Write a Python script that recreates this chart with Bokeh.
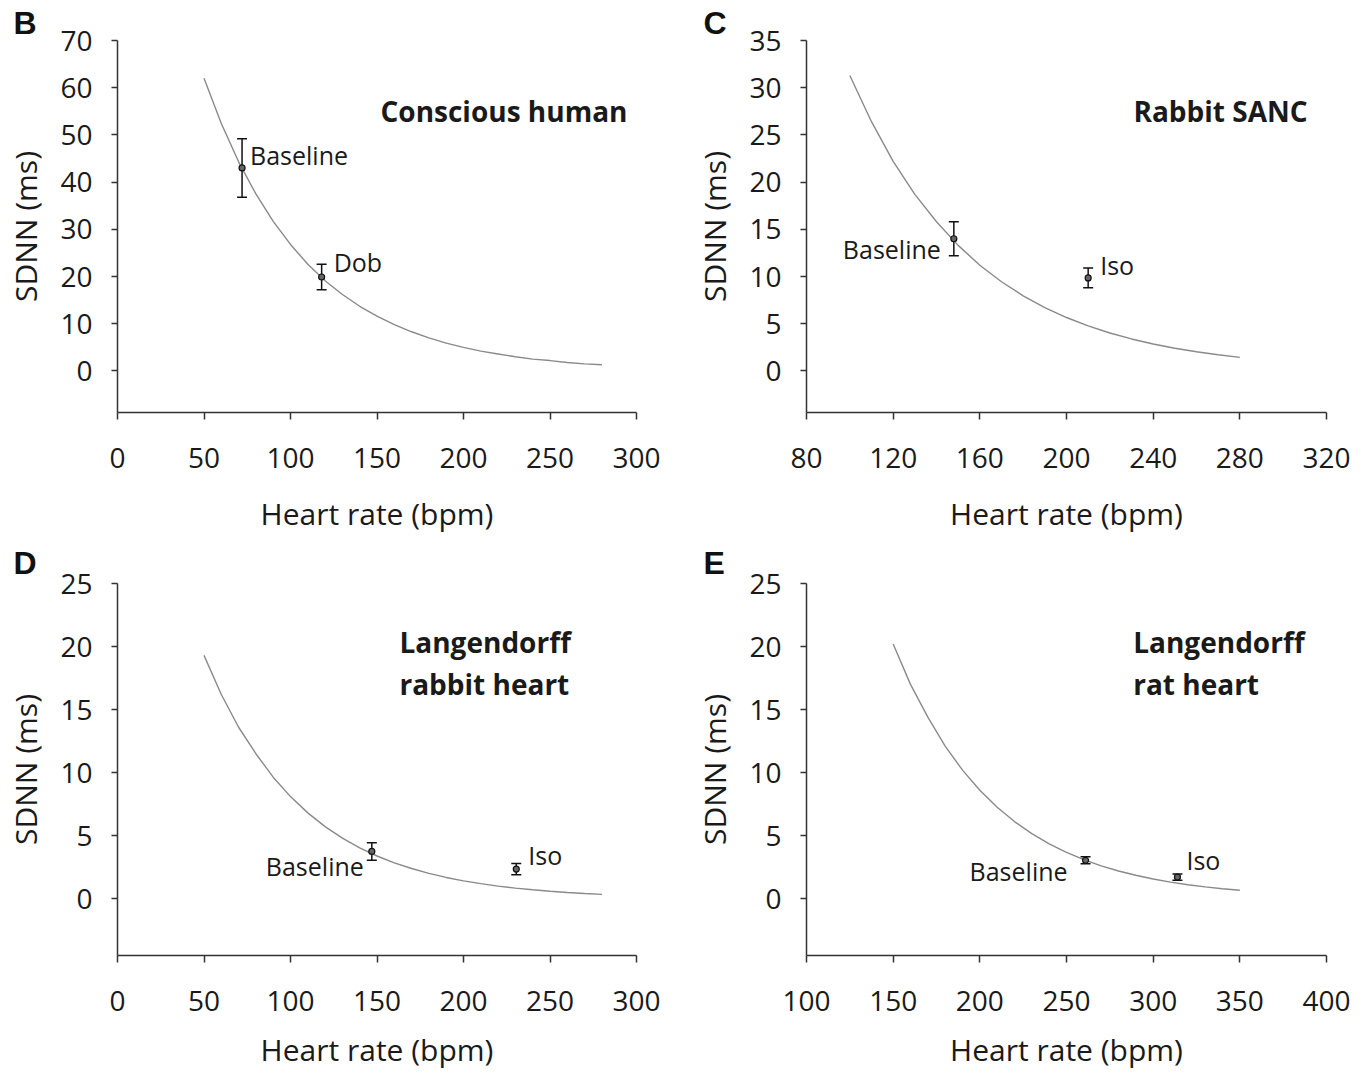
from bokeh.plotting import figure
from bokeh.models import Range1d, FixedTicker, Label, Whisker, TeeHead, ColumnDataSource
from bokeh.layouts import column, row
from bokeh.embed import file_html
from bokeh.resources import INLINE

# ---------------- data ----------------
# Panel B: Conscious human
b_curve_hr = [50, 60, 70, 80, 90, 100, 110, 120, 130, 140, 150, 160, 170, 180, 190, 200,
              210, 220, 230, 240, 250, 260, 270, 280]
b_curve_sdnn = [62.0, 52.4, 44.3, 37.5, 31.7, 26.8, 22.6, 19.1, 16.2, 13.7, 11.6, 9.8, 8.3, 7.0,
                5.9, 5.0, 4.2, 3.6, 3.0, 2.5, 2.2, 1.8, 1.5, 1.3]
b_labels = ["Baseline", "Dob"]
b_hr = [72, 118]
b_sdnn = [43.0, 19.9]
b_err = [6.2, 2.7]
b_xticks = [0, 50, 100, 150, 200, 250, 300]
b_yticks = [0, 10, 20, 30, 40, 50, 60, 70]

# Panel C: Rabbit SANC
c_curve_hr = [100, 110, 120, 130, 140, 150, 160, 170, 180, 190, 200, 210, 220, 230, 240, 250,
              260, 270, 280]
c_curve_sdnn = [31.3, 26.4, 22.2, 18.7, 15.8, 13.3, 11.2, 9.45, 7.96, 6.71, 5.66, 4.77, 4.02,
                3.39, 2.85, 2.40, 2.03, 1.71, 1.44]
c_labels = ["Baseline", "Iso"]
c_hr = [148, 210]
c_sdnn = [14.0, 9.85]
c_err = [1.8, 1.05]
c_xticks = [80, 120, 160, 200, 240, 280, 320]
c_yticks = [0, 5, 10, 15, 20, 25, 30, 35]

# Panel D: Langendorff rabbit heart
d_curve_hr = [50, 60, 70, 80, 90, 100, 110, 120, 130, 140, 150, 160, 170, 180, 190, 200,
              210, 220, 230, 240, 250, 260, 270, 280]
d_curve_sdnn = [19.3, 16.2, 13.6, 11.5, 9.64, 8.10, 6.81, 5.72, 4.81, 4.04, 3.39, 2.85, 2.40,
                2.01, 1.69, 1.42, 1.20, 1.00, 0.84, 0.71, 0.60, 0.50, 0.42, 0.35]
d_labels = ["Baseline", "Iso"]
d_hr = [147, 230.5]
d_sdnn = [3.75, 2.35]
d_err = [0.7, 0.45]
d_xticks = [0, 50, 100, 150, 200, 250, 300]
d_yticks = [0, 5, 10, 15, 20, 25]

# Panel E: Langendorff rat heart
e_curve_hr = [150, 160, 170, 180, 190, 200, 210, 220, 230, 240, 250, 260, 270, 280, 290, 300,
              310, 320, 330, 340, 350]
e_curve_sdnn = [20.2, 17.0, 14.4, 12.1, 10.2, 8.6, 7.26, 6.12, 5.16, 4.35, 3.67, 3.10, 2.61,
                2.20, 1.86, 1.57, 1.32, 1.11, 0.94, 0.79, 0.67]
e_labels = ["Baseline", "Iso"]
e_hr = [261, 314]
e_sdnn = [3.05, 1.72]
e_err = [0.28, 0.25]
e_xticks = [100, 150, 200, 250, 300, 350, 400]
e_yticks = [0, 5, 10, 15, 20, 25]

FONT = "Open Sans"
TXT = "#1a1a1a"


def panel(letter, title_lines, title_x, title_y, title_dy, xr, yr, xticks, yticks,
          chr_, csd, hr, sd, err, labels, lab_specs, w, h, bl, br, bt, bb, letter_x, letter_sb,
          xlabel_standoff):
    p = figure(width=w, height=h, x_range=Range1d(*xr), y_range=Range1d(*yr),
               output_backend="svg", toolbar_location=None,
               min_border_left=bl, min_border_right=br, min_border_top=bt, min_border_bottom=bb)
    p.outline_line_color = None
    p.grid.visible = False
    p.background_fill_color = "white"
    p.border_fill_color = "white"

    # panel letter as the figure title
    p.title.text = letter
    p.title.align = "left"
    p.title.offset = letter_x
    p.title.standoff = letter_sb
    p.title.text_font = "Liberation Sans"
    p.title.text_font_style = "bold"
    p.title.text_font_size = "32px"
    p.title.text_color = "#111111"

    for ax in (p.xaxis[0], p.yaxis[0]):
        ax.axis_line_color = "#333333"
        ax.axis_line_width = 1.5
        ax.major_tick_line_color = "#333333"
        ax.major_tick_line_width = 1.5
        ax.major_tick_in = 0
        ax.minor_tick_line_color = None
        ax.major_label_text_font = FONT
        ax.major_label_text_font_size = "28px"
        ax.major_label_text_color = TXT
        ax.axis_label_text_font = FONT
        ax.axis_label_text_font_size = "30px"
        ax.axis_label_text_font_style = "normal"
        ax.axis_label_text_color = TXT

    p.xaxis.ticker = FixedTicker(ticks=xticks)
    p.yaxis.ticker = FixedTicker(ticks=yticks)
    p.xaxis.major_tick_out = 7
    p.yaxis.major_tick_out = 6
    p.xaxis.major_label_standoff = 28
    p.yaxis.major_label_standoff = 19
    p.xaxis.axis_label_standoff = xlabel_standoff
    p.yaxis.axis_label_standoff = 11
    p.xaxis.axis_label = "Heart rate (bpm)"
    p.yaxis.axis_label = "SDNN (ms)"

    p.line(chr_, csd, line_color="#8a8a8a", line_width=1.4)

    lower = [s - e for s, e in zip(sd, err)]
    upper = [s + e for s, e in zip(sd, err)]
    src = ColumnDataSource(dict(hr=hr, sd=sd, lower=lower, upper=upper))
    wk = Whisker(base="hr", lower="lower", upper="upper", source=src, dimension="height",
                 line_color="#111111", line_width=1.5,
                 upper_head=TeeHead(size=10, line_color="#111111", line_width=1.5),
                 lower_head=TeeHead(size=10, line_color="#111111", line_width=1.5))
    p.add_layout(wk)
    p.scatter("hr", "sd", source=src, size=6, fill_color="#666666", line_color="#111111",
              line_width=1.2)

    for i, (lab, (align, dx, dy)) in enumerate(zip(labels, lab_specs)):
        p.add_layout(Label(x=hr[i], y=sd[i], text=lab, x_offset=dx, y_offset=dy,
                           text_align=align, text_baseline="middle",
                           text_font=FONT, text_font_size="25px", text_color=TXT))

    for j, line in enumerate(title_lines):
        p.add_layout(Label(x=title_x, y=title_y, y_offset=12 - j * title_dy, text=line,
                           text_align="left", text_baseline="alphabetic",
                           text_font=FONT, text_font_style="bold",
                           text_font_size="28px", text_color=TXT))
    return p


pB = panel("B", ["Conscious human"], 152, 52.6, 0, (0, 300), (-8.8, 70), b_xticks, b_yticks,
           b_curve_hr, b_curve_sdnn, b_hr, b_sdnn, b_err, b_labels,
           [("left", 8, 13), ("left", 12, 15)],
           685, 538, 117, 49, 40, 126, -104, 0, 22)
pC = panel("C", ["Rabbit SANC"], 230.9, 26.3, 0, (80, 320), (-4.4, 35), c_xticks, c_yticks,
           c_curve_hr, c_curve_sdnn, c_hr, c_sdnn, c_err, c_labels,
           [("right", -13, -10), ("left", 12, 13)],
           685, 538, 121, 44, 40, 126, -103, 0, 22)
pD = panel("D", ["Langendorff", "rabbit heart"], 163, 19.44, 42, (0, 300), (-4.5, 25), d_xticks,
           d_yticks, d_curve_hr, d_curve_sdnn, d_hr, d_sdnn, d_err, d_labels,
           [("right", -8, -15), ("left", 12, 14)],
           685, 537, 117, 49, 45, 120, -104, 6, 15)
pE = panel("E", ["Langendorff", "rat heart"], 288.5, 19.44, 42, (100, 400), (-4.5, 25), e_xticks,
           e_yticks, e_curve_hr, e_curve_sdnn, e_hr, e_sdnn, e_err, e_labels,
           [("right", -18, -11), ("left", 9, 17)],
           685, 537, 121, 44, 45, 120, -103, 6, 15)

layout = column(row(pB, pC, spacing=0), row(pD, pE, spacing=0), spacing=0)
open("out.html", "w").write(file_html(layout, INLINE))
